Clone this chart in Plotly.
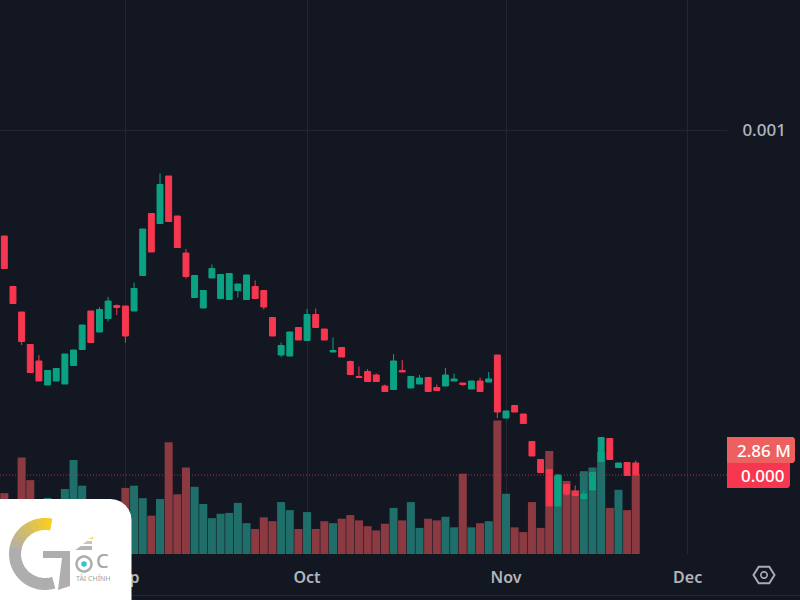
import math
import pandas as pd
import plotly.graph_objects as go

# Prices in millionths, volumes in millions
opens = [788,687,636,571,538,490,498,492,529,561,638,596,623,649,648,638,709,833,813,908,828,754,665,644,704,663,661,679,661,687,679,625,550,548,605,579,631,602,556,565,537,507,517,510,488,481,519,484,492,505,485,488,498,494,482,498,496,550,424,449,432,377,341,321,248,291,277,263,280,337,383,325,335,334]
highs = [788,687,636,571,550,519,523,552,560,610,638,646,666,651,648,695,802,833,913,908,828,762,709,679,731,711,713,692,710,699,679,625,575,596,605,642,643,602,585,565,539,527,522,513,491,552,540,507,510,505,491,524,513,494,498,505,516,550,438,449,432,377,341,321,312,291,289,279,315,385,383,334,335,339]
lows = [723,653,570,515,498,490,498,492,529,561,575,596,617,630,575,638,709,756,813,817,765,703,665,644,704,663,661,665,661,663,641,588,546,548,580,579,605,580,556,546,511,505,497,497,477,481,516,484,492,477,479,488,498,488,482,477,496,424,424,436,413,348,315,248,248,269,269,260,280,337,341,325,309,310]
closes = [723,653,577,515,498,519,523,552,560,610,575,641,658,645,588,683,802,756,891,817,765,707,709,679,723,711,713,692,710,663,646,588,569,596,580,631,605,580,559,546,511,505,497,497,477,538,516,507,504,477,479,510,502,491,498,477,502,436,438,436,413,348,315,248,310,272,269,272,315,385,341,334,309,310]
volumes = [2.19,1.76,3.47,2.66,1.84,2.02,1.76,2.34,3.38,2.46,1.76,1.58,1.40,1.58,2.38,2.46,2.01,1.38,1.98,4.02,2.15,3.11,2.42,1.80,1.29,1.45,1.48,1.84,1.11,0.90,1.32,1.18,1.87,1.58,0.90,1.51,0.90,1.18,1.11,1.27,1.40,1.21,1.00,0.85,1.09,1.66,1.21,1.87,0.94,1.27,1.21,1.34,0.96,2.89,0.96,1.11,1.18,4.81,2.17,0.96,0.79,1.87,0.94,3.71,2.81,2.63,2.30,2.98,3.11,3.67,1.66,2.31,1.58,2.86]
tick_dates = ["2024-09-02", "2024-10-01", "2024-11-01", "2024-12-02"]
tick_names = ["Sep", "Oct", "Nov", "Dec"]
first_date = "2024-08-13"
volume_label = "2.86 M"
price_label = "0.000"

BG = "#131722"
GRID = "#232733"
RED = "#f7374f"
GREEN = "#0aa283"
RED_VOL = "#8b3a41"
GREEN_VOL = "#1f6e6a"
TICK = "#b2b5be"
FONT = "Noto Sans"

W, H = 727, 554
dates = pd.bdate_range(first_date, periods=len(closes))
prices = lambda a: [v * 1e-6 for v in a]
vol_colors = [GREEN_VOL if c >= o else RED_VOL for o, c in zip(opens, closes)]

fx = lambda x: x / W
fy = lambda y: 1 - y / H


def path(points, close=False):
    s = "M" + " L".join(f"{fx(x):.5f},{fy(y):.5f}" for x, y in points)
    return s + (" Z" if close else "")


def rounded(x0, y0, x1, y1, rtl=0, rtr=0, rbr=0, rbl=0):
    def arc(cx, cy, r, a0):
        return [(cx + r * math.cos(math.radians(a0 + i * 15)), cy + r * math.sin(math.radians(a0 + i * 15))) for i in range(7)] if r else [(cx, cy)]
    pts = arc(x0 + rtl, y0 + rtl, rtl, 180) + arc(x1 - rtr, y0 + rtr, rtr, 270) + arc(x1 - rbr, y1 - rbr, rbr, 0) + arc(x0 + rbl, y1 - rbl, rbl, 90)
    return pts


def pshape(points, fill=None, line=None, width=0, close=True):
    return dict(type="path", xref="paper", yref="paper", layer="above", path=path(points, close),
                fillcolor=fill if fill else "rgba(0,0,0,0)",
                line=dict(color=line if line else "rgba(0,0,0,0)", width=width))


fig = go.Figure()
fig.add_trace(go.Bar(x=dates, y=volumes, marker=dict(color=vol_colors, line_width=0), yaxis="y", showlegend=False))
fig.add_trace(go.Candlestick(
    x=dates, open=prices(opens), high=prices(highs), low=prices(lows), close=prices(closes), yaxis="y2",
    increasing=dict(line=dict(color=GREEN, width=1), fillcolor=GREEN),
    decreasing=dict(line=dict(color=RED, width=1), fillcolor=RED),
    whiskerwidth=0, showlegend=False))

shapes = [dict(type="line", xref="paper", yref="y2", x0=0, x1=1, y0=closes[-1] * 1e-6, y1=closes[-1] * 1e-6,
               line=dict(color="#a8374a", width=1, dash="1px,2px"), layer="above")]

# Footer rule under the time axis
shapes.append(pshape([(0, 595.5), (800, 595.5)], line=GRID, width=1, close=False))

# Price and volume tags
shapes.append(pshape(rounded(727, 437, 795, 463, 0, 3, 3, 0), fill="#ee5f5f"))
shapes.append(pshape(rounded(727, 463, 790, 488, 0, 0, 3, 0), fill=RED))

# Settings icon
hexa = [(764 + 10.5 * math.cos(math.radians(a)), 575 + 9.5 * math.sin(math.radians(a))) for a in range(0, 360, 60)]
shapes.append(pshape(hexa, line="#a9acb6", width=2))
circ = [(764 + 3.2 * math.cos(math.radians(a)), 575 + 3.2 * math.sin(math.radians(a))) for a in range(0, 360, 20)]
shapes.append(pshape(circ, line="#a9acb6", width=1.6))

# Logo card
shapes.append(pshape(rounded(0, 499, 131.5, 610, 0, 21, 0, 0), fill="#ffffff"))
cx, cy, r = 45, 554, 30
n = 16
start, end = -78, -285
for i in range(n):
    t0, t1 = i / n, (i + 1.15) / n
    mix = min(1, i / 7)
    col = "#%02x%02x%02x" % (int(246 + (174 - 246) * mix), int(205 + (174 - 205) * mix), int(40 + (174 - 40) * mix))
    pts = []
    for k in range(5):
        a = math.radians(start + (end - start) * (t0 + (t1 - t0) * k / 4))
        pts.append((cx + r * math.cos(a), cy + r * math.sin(a)))
    shapes.append(pshape(pts, line=col, width=12, close=False))
shapes.append(pshape([(43, 551), (70, 551), (70, 586), (58, 590), (62, 558), (43, 558)], fill="#aeaeae"))
shapes.append(pshape([(75, 550), (92, 550), (92, 546), (81, 546)], fill="#b5b5b5"))
shapes.append(pshape([(83, 544), (92, 544), (92, 541), (87, 541)], fill="#c9c9b0"))
shapes.append(pshape([(89, 539), (93, 539), (93, 537)], fill="#f0cf45"))
ring = [(84 + 7.5 * math.cos(math.radians(a)), 564 + 7.5 * math.sin(math.radians(a))) for a in range(0, 360, 20)]
shapes.append(pshape(ring, line="#aeaeae", width=2.5))
dot = [(84 + 2.8 * math.cos(math.radians(a)), 564 + 2.8 * math.sin(math.radians(a))) for a in range(0, 360, 30)]
shapes.append(pshape(dot, fill="#35c3d4"))


def note(text, x, y, size, color, weight=400, anchor="center"):
    return dict(text=text, x=fx(x), y=fy(y), xref="paper", yref="paper", showarrow=False, xanchor=anchor, yanchor="middle",
                font=dict(family=FONT, size=size, color=color, weight=weight), borderpad=0, borderwidth=0)


annotations = [
    note(volume_label, 791, 450, 17, "#ffffff", 500, "right"),
    note(price_label, 785, 475, 17, "#ffffff", 500, "right"),
    note("C", 102, 560, 20, "#a8a8a8", 500),
    note("TÀI CHÍNH", 93, 578.5, 7, "#a0a0a0"),
]

fig.update_layout(
    width=800, height=600, margin=dict(l=0, r=73, t=0, b=46), autosize=False,
    paper_bgcolor=BG, plot_bgcolor=BG, bargap=0.07, boxgap=0.02, showlegend=False,
    font=dict(family=FONT, color=TICK),
    xaxis=dict(type="date", range=["2024-08-12 12:00", "2024-12-06 13:12"], rangebreaks=[dict(bounds=["sat", "mon"])],
               tickmode="array", tickvals=tick_dates, ticktext=tick_names, showgrid=True, gridcolor=GRID, gridwidth=1,
               zeroline=False, showline=False, ticks="outside", ticklen=9, tickcolor="rgba(0,0,0,0)",
               tickfont=dict(size=16, color=TICK, family=FONT, weight=600), rangeslider=dict(visible=False)),
    yaxis=dict(range=[0, 554 * 0.036], visible=False, showgrid=False, zeroline=False),
    yaxis2=dict(range=[152e-6, 1260e-6], overlaying="y", side="right", tickmode="array", tickvals=[0.001], ticktext=["0.001"],
                showgrid=True, gridcolor=GRID, gridwidth=1, zeroline=False, showline=False, ticks="outside", ticklen=11,
                tickcolor="rgba(0,0,0,0)", tickfont=dict(size=17, color=TICK, family=FONT, weight=500)),
    shapes=shapes, annotations=annotations,
)
fig.write_html("out.html", config=dict(displayModeBar=False),
               post_script="document.body.style.margin='0';document.body.style.overflow='hidden';")
